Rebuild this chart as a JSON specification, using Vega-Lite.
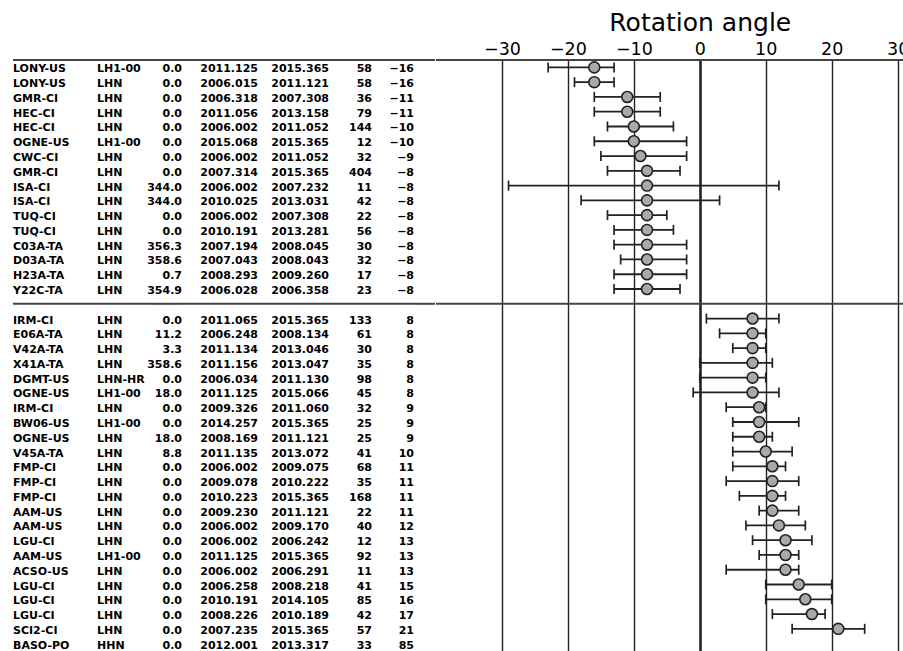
{
  "$schema": "https://vega.github.io/schema/vega-lite/v6.json",
  "padding": {"left": 12, "top": 10, "right": 0, "bottom": 0},
  "spacing": 0,
  "bounds": "flush",
  "config": {
    "font": "DejaVu Sans",
    "view": {"stroke": null},
    "concat": {"spacing": 0}
  },
  "datasets": {
    "rows": [
      {"seq": 1, "st": "LONY-US", "ch": "LH1-00", "az": 0.0, "t0": 2011.125, "t1": 2015.365, "n": 58, "ang": -16, "lo": -23, "hi": -13},
      {"seq": 2, "st": "LONY-US", "ch": "LHN", "az": 0.0, "t0": 2006.015, "t1": 2011.121, "n": 58, "ang": -16, "lo": -19, "hi": -13},
      {"seq": 3, "st": "GMR-CI", "ch": "LHN", "az": 0.0, "t0": 2006.318, "t1": 2007.308, "n": 36, "ang": -11, "lo": -16, "hi": -6},
      {"seq": 4, "st": "HEC-CI", "ch": "LHN", "az": 0.0, "t0": 2011.056, "t1": 2013.158, "n": 79, "ang": -11, "lo": -16, "hi": -6},
      {"seq": 5, "st": "HEC-CI", "ch": "LHN", "az": 0.0, "t0": 2006.002, "t1": 2011.052, "n": 144, "ang": -10, "lo": -14, "hi": -4},
      {"seq": 6, "st": "OGNE-US", "ch": "LH1-00", "az": 0.0, "t0": 2015.068, "t1": 2015.365, "n": 12, "ang": -10, "lo": -16, "hi": -2},
      {"seq": 7, "st": "CWC-CI", "ch": "LHN", "az": 0.0, "t0": 2006.002, "t1": 2011.052, "n": 32, "ang": -9, "lo": -15, "hi": -2},
      {"seq": 8, "st": "GMR-CI", "ch": "LHN", "az": 0.0, "t0": 2007.314, "t1": 2015.365, "n": 404, "ang": -8, "lo": -14, "hi": -3},
      {"seq": 9, "st": "ISA-CI", "ch": "LHN", "az": 344.0, "t0": 2006.002, "t1": 2007.232, "n": 11, "ang": -8, "lo": -29, "hi": 12},
      {"seq": 10, "st": "ISA-CI", "ch": "LHN", "az": 344.0, "t0": 2010.025, "t1": 2013.031, "n": 42, "ang": -8, "lo": -18, "hi": 3},
      {"seq": 11, "st": "TUQ-CI", "ch": "LHN", "az": 0.0, "t0": 2006.002, "t1": 2007.308, "n": 22, "ang": -8, "lo": -14, "hi": -5},
      {"seq": 12, "st": "TUQ-CI", "ch": "LHN", "az": 0.0, "t0": 2010.191, "t1": 2013.281, "n": 56, "ang": -8, "lo": -13, "hi": -4},
      {"seq": 13, "st": "C03A-TA", "ch": "LHN", "az": 356.3, "t0": 2007.194, "t1": 2008.045, "n": 30, "ang": -8, "lo": -13, "hi": -2},
      {"seq": 14, "st": "D03A-TA", "ch": "LHN", "az": 358.6, "t0": 2007.043, "t1": 2008.043, "n": 32, "ang": -8, "lo": -12, "hi": -2},
      {"seq": 15, "st": "H23A-TA", "ch": "LHN", "az": 0.7, "t0": 2008.293, "t1": 2009.260, "n": 17, "ang": -8, "lo": -13, "hi": -2},
      {"seq": 16, "st": "Y22C-TA", "ch": "LHN", "az": 354.9, "t0": 2006.028, "t1": 2006.358, "n": 23, "ang": -8, "lo": -13, "hi": -3},
      {"seq": 17, "st": "IRM-CI", "ch": "LHN", "az": 0.0, "t0": 2011.065, "t1": 2015.365, "n": 133, "ang": 8, "lo": 1, "hi": 12},
      {"seq": 18, "st": "E06A-TA", "ch": "LHN", "az": 11.2, "t0": 2006.248, "t1": 2008.134, "n": 61, "ang": 8, "lo": 3, "hi": 10},
      {"seq": 19, "st": "V42A-TA", "ch": "LHN", "az": 3.3, "t0": 2011.134, "t1": 2013.046, "n": 30, "ang": 8, "lo": 5, "hi": 10},
      {"seq": 20, "st": "X41A-TA", "ch": "LHN", "az": 358.6, "t0": 2011.156, "t1": 2013.047, "n": 35, "ang": 8, "lo": 0, "hi": 11},
      {"seq": 21, "st": "DGMT-US", "ch": "LHN-HR", "az": 0.0, "t0": 2006.034, "t1": 2011.130, "n": 98, "ang": 8, "lo": 0, "hi": 10},
      {"seq": 22, "st": "OGNE-US", "ch": "LH1-00", "az": 18.0, "t0": 2011.125, "t1": 2015.066, "n": 45, "ang": 8, "lo": -1, "hi": 12},
      {"seq": 23, "st": "IRM-CI", "ch": "LHN", "az": 0.0, "t0": 2009.326, "t1": 2011.060, "n": 32, "ang": 9, "lo": 4, "hi": 10},
      {"seq": 24, "st": "BW06-US", "ch": "LH1-00", "az": 0.0, "t0": 2014.257, "t1": 2015.365, "n": 25, "ang": 9, "lo": 5, "hi": 15},
      {"seq": 25, "st": "OGNE-US", "ch": "LHN", "az": 18.0, "t0": 2008.169, "t1": 2011.121, "n": 25, "ang": 9, "lo": 5, "hi": 11},
      {"seq": 26, "st": "V45A-TA", "ch": "LHN", "az": 8.8, "t0": 2011.135, "t1": 2013.072, "n": 41, "ang": 10, "lo": 5, "hi": 14},
      {"seq": 27, "st": "FMP-CI", "ch": "LHN", "az": 0.0, "t0": 2006.002, "t1": 2009.075, "n": 68, "ang": 11, "lo": 5, "hi": 13},
      {"seq": 28, "st": "FMP-CI", "ch": "LHN", "az": 0.0, "t0": 2009.078, "t1": 2010.222, "n": 35, "ang": 11, "lo": 4, "hi": 15},
      {"seq": 29, "st": "FMP-CI", "ch": "LHN", "az": 0.0, "t0": 2010.223, "t1": 2015.365, "n": 168, "ang": 11, "lo": 6, "hi": 13},
      {"seq": 30, "st": "AAM-US", "ch": "LHN", "az": 0.0, "t0": 2009.230, "t1": 2011.121, "n": 22, "ang": 11, "lo": 9, "hi": 15},
      {"seq": 31, "st": "AAM-US", "ch": "LHN", "az": 0.0, "t0": 2006.002, "t1": 2009.170, "n": 40, "ang": 12, "lo": 7, "hi": 16},
      {"seq": 32, "st": "LGU-CI", "ch": "LHN", "az": 0.0, "t0": 2006.002, "t1": 2006.242, "n": 12, "ang": 13, "lo": 8, "hi": 17},
      {"seq": 33, "st": "AAM-US", "ch": "LH1-00", "az": 0.0, "t0": 2011.125, "t1": 2015.365, "n": 92, "ang": 13, "lo": 9, "hi": 15},
      {"seq": 34, "st": "ACSO-US", "ch": "LHN", "az": 0.0, "t0": 2006.002, "t1": 2006.291, "n": 11, "ang": 13, "lo": 4, "hi": 15},
      {"seq": 35, "st": "LGU-CI", "ch": "LHN", "az": 0.0, "t0": 2006.258, "t1": 2008.218, "n": 41, "ang": 15, "lo": 10, "hi": 20},
      {"seq": 36, "st": "LGU-CI", "ch": "LHN", "az": 0.0, "t0": 2010.191, "t1": 2014.105, "n": 85, "ang": 16, "lo": 10, "hi": 20},
      {"seq": 37, "st": "LGU-CI", "ch": "LHN", "az": 0.0, "t0": 2008.226, "t1": 2010.189, "n": 42, "ang": 17, "lo": 11, "hi": 19},
      {"seq": 38, "st": "SCI2-CI", "ch": "LHN", "az": 0.0, "t0": 2007.235, "t1": 2015.365, "n": 57, "ang": 21, "lo": 14, "hi": 25},
      {"seq": 39, "st": "BASO-PO", "ch": "HHN", "az": 0.0, "t0": 2012.001, "t1": 2013.317, "n": 33, "ang": 85, "lo": null, "hi": null}
    ]
  },
  "data": {"name": "rows"},
  "hconcat": [
    {
      "width": 84, "height": 591,
      "encoding": {"y": {"field": "seq", "type": "ordinal", "axis": null, "scale": {"domain": [1,2,3,4,5,6,7,8,9,10,11,12,13,14,15,16,16.5,17,18,19,20,21,22,23,24,25,26,27,28,29,30,31,32,33,34,35,36,37,38,39], "paddingInner": 0, "paddingOuter": 0}}},
      "layer": [
        {"mark": {"type": "text", "align": "left", "baseline": "middle", "dy": 2, "fontSize": 11, "fontWeight": "bold", "color": "#000"},
         "encoding": {"x": {"datum": 0, "type": "quantitative", "scale": {"domain": [0, 1]}, "axis": null}, "text": {"field": "st"}}},
        {"data": {"values": [{}]}, "mark": {"type": "rule", "color": "#444", "strokeWidth": 2}, "encoding": {"y": {"datum": 1, "type": "ordinal", "bandPosition": 0}}},
        {"data": {"values": [{}]}, "mark": {"type": "rule", "color": "#444", "strokeWidth": 2}, "encoding": {"y": {"datum": 16.5, "type": "ordinal"}}}
      ]
    },
    {
      "width": 54, "height": 591,
      "encoding": {"y": {"field": "seq", "type": "ordinal", "axis": null, "scale": {"domain": [1,2,3,4,5,6,7,8,9,10,11,12,13,14,15,16,16.5,17,18,19,20,21,22,23,24,25,26,27,28,29,30,31,32,33,34,35,36,37,38,39], "paddingInner": 0, "paddingOuter": 0}}},
      "layer": [
        {"mark": {"type": "text", "align": "left", "baseline": "middle", "dy": 2, "fontSize": 11, "fontWeight": "bold", "color": "#000"},
         "encoding": {"x": {"datum": 0, "type": "quantitative", "scale": {"domain": [0, 1]}, "axis": null}, "text": {"field": "ch"}}},
        {"data": {"values": [{}]}, "mark": {"type": "rule", "color": "#444", "strokeWidth": 2}, "encoding": {"y": {"datum": 1, "type": "ordinal", "bandPosition": 0}}},
        {"data": {"values": [{}]}, "mark": {"type": "rule", "color": "#444", "strokeWidth": 2}, "encoding": {"y": {"datum": 16.5, "type": "ordinal"}}}
      ]
    },
    {
      "width": 31, "height": 591,
      "encoding": {"y": {"field": "seq", "type": "ordinal", "axis": null, "scale": {"domain": [1,2,3,4,5,6,7,8,9,10,11,12,13,14,15,16,16.5,17,18,19,20,21,22,23,24,25,26,27,28,29,30,31,32,33,34,35,36,37,38,39], "paddingInner": 0, "paddingOuter": 0}}},
      "layer": [
        {"mark": {"type": "text", "align": "right", "baseline": "middle", "dy": 2, "fontSize": 11, "fontWeight": "bold", "color": "#000"},
         "encoding": {"x": {"datum": 1, "type": "quantitative", "scale": {"domain": [0, 1]}, "axis": null}, "text": {"field": "az", "type": "quantitative", "format": ".1f"}}},
        {"data": {"values": [{}]}, "mark": {"type": "rule", "color": "#444", "strokeWidth": 2}, "encoding": {"y": {"datum": 1, "type": "ordinal", "bandPosition": 0}}},
        {"data": {"values": [{}]}, "mark": {"type": "rule", "color": "#444", "strokeWidth": 2}, "encoding": {"y": {"datum": 16.5, "type": "ordinal"}}}
      ]
    },
    {
      "width": 76, "height": 591,
      "encoding": {"y": {"field": "seq", "type": "ordinal", "axis": null, "scale": {"domain": [1,2,3,4,5,6,7,8,9,10,11,12,13,14,15,16,16.5,17,18,19,20,21,22,23,24,25,26,27,28,29,30,31,32,33,34,35,36,37,38,39], "paddingInner": 0, "paddingOuter": 0}}},
      "layer": [
        {"mark": {"type": "text", "align": "right", "baseline": "middle", "dy": 2, "fontSize": 11, "fontWeight": "bold", "color": "#000"},
         "encoding": {"x": {"datum": 1, "type": "quantitative", "scale": {"domain": [0, 1]}, "axis": null}, "text": {"field": "t0", "type": "quantitative", "format": ".3f"}}},
        {"data": {"values": [{}]}, "mark": {"type": "rule", "color": "#444", "strokeWidth": 2}, "encoding": {"y": {"datum": 1, "type": "ordinal", "bandPosition": 0}}},
        {"data": {"values": [{}]}, "mark": {"type": "rule", "color": "#444", "strokeWidth": 2}, "encoding": {"y": {"datum": 16.5, "type": "ordinal"}}}
      ]
    },
    {
      "width": 71, "height": 591,
      "encoding": {"y": {"field": "seq", "type": "ordinal", "axis": null, "scale": {"domain": [1,2,3,4,5,6,7,8,9,10,11,12,13,14,15,16,16.5,17,18,19,20,21,22,23,24,25,26,27,28,29,30,31,32,33,34,35,36,37,38,39], "paddingInner": 0, "paddingOuter": 0}}},
      "layer": [
        {"mark": {"type": "text", "align": "right", "baseline": "middle", "dy": 2, "fontSize": 11, "fontWeight": "bold", "color": "#000"},
         "encoding": {"x": {"datum": 1, "type": "quantitative", "scale": {"domain": [0, 1]}, "axis": null}, "text": {"field": "t1", "type": "quantitative", "format": ".3f"}}},
        {"data": {"values": [{}]}, "mark": {"type": "rule", "color": "#444", "strokeWidth": 2}, "encoding": {"y": {"datum": 1, "type": "ordinal", "bandPosition": 0}}},
        {"data": {"values": [{}]}, "mark": {"type": "rule", "color": "#444", "strokeWidth": 2}, "encoding": {"y": {"datum": 16.5, "type": "ordinal"}}}
      ]
    },
    {
      "width": 43, "height": 591,
      "encoding": {"y": {"field": "seq", "type": "ordinal", "axis": null, "scale": {"domain": [1,2,3,4,5,6,7,8,9,10,11,12,13,14,15,16,16.5,17,18,19,20,21,22,23,24,25,26,27,28,29,30,31,32,33,34,35,36,37,38,39], "paddingInner": 0, "paddingOuter": 0}}},
      "layer": [
        {"mark": {"type": "text", "align": "right", "baseline": "middle", "dy": 2, "fontSize": 11, "fontWeight": "bold", "color": "#000"},
         "encoding": {"x": {"datum": 1, "type": "quantitative", "scale": {"domain": [0, 1]}, "axis": null}, "text": {"field": "n", "type": "quantitative", "format": "d"}}},
        {"data": {"values": [{}]}, "mark": {"type": "rule", "color": "#444", "strokeWidth": 2}, "encoding": {"y": {"datum": 1, "type": "ordinal", "bandPosition": 0}}},
        {"data": {"values": [{}]}, "mark": {"type": "rule", "color": "#444", "strokeWidth": 2}, "encoding": {"y": {"datum": 16.5, "type": "ordinal"}}}
      ]
    },
    {
      "width": 42, "height": 591,
      "encoding": {"y": {"field": "seq", "type": "ordinal", "axis": null, "scale": {"domain": [1,2,3,4,5,6,7,8,9,10,11,12,13,14,15,16,16.5,17,18,19,20,21,22,23,24,25,26,27,28,29,30,31,32,33,34,35,36,37,38,39], "paddingInner": 0, "paddingOuter": 0}}},
      "layer": [
        {"mark": {"type": "text", "align": "right", "baseline": "middle", "dy": 2, "fontSize": 11, "fontWeight": "bold", "color": "#000"},
         "encoding": {"x": {"datum": 1, "type": "quantitative", "scale": {"domain": [0, 1]}, "axis": null}, "text": {"field": "ang", "type": "quantitative", "format": "d"}}},
        {"data": {"values": [{}]}, "mark": {"type": "rule", "color": "#444", "strokeWidth": 2}, "encoding": {"y": {"datum": 1, "type": "ordinal", "bandPosition": 0}}},
        {"data": {"values": [{}]}, "mark": {"type": "rule", "color": "#444", "strokeWidth": 2}, "encoding": {"y": {"datum": 16.5, "type": "ordinal"}}}
      ]
    },
    {
      "width": 21.05, "height": 591,
      "encoding": {"y": {"field": "seq", "type": "ordinal", "axis": null, "scale": {"domain": [1,2,3,4,5,6,7,8,9,10,11,12,13,14,15,16,16.5,17,18,19,20,21,22,23,24,25,26,27,28,29,30,31,32,33,34,35,36,37,38,39], "paddingInner": 0, "paddingOuter": 0}}},
      "layer": [
        {"data": {"values": [{}]}, "mark": {"type": "rule", "color": "#444", "strokeWidth": 2}, "encoding": {"y": {"datum": 1, "type": "ordinal", "bandPosition": 0}}},
        {"data": {"values": [{}]}, "mark": {"type": "rule", "color": "#444", "strokeWidth": 2}, "encoding": {"y": {"datum": 16.5, "type": "ordinal"}}}
      ]
    },
    {
      "width": 527.6, "height": 591,
      "encoding": {"y": {"field": "seq", "type": "ordinal", "axis": null, "scale": {"domain": [1,2,3,4,5,6,7,8,9,10,11,12,13,14,15,16,16.5,17,18,19,20,21,22,23,24,25,26,27,28,29,30,31,32,33,34,35,36,37,38,39], "paddingInner": 0, "paddingOuter": 0}}},
      "layer": [
        {"data": {"values": [{}]}, "mark": {"type": "rule", "color": "#444", "strokeWidth": 2}, "encoding": {"y": {"datum": 1, "type": "ordinal", "bandPosition": 0}}},
        {"data": {"values": [{}]}, "mark": {"type": "rule", "color": "#444", "strokeWidth": 2}, "encoding": {"y": {"datum": 16.5, "type": "ordinal"}}},
        {"transform": [{"filter": "isValid(datum.lo) && isValid(datum.hi)"}],
         "mark": {"type": "rule", "color": "#222", "strokeWidth": 1.8},
         "encoding": {"x": {"field": "lo", "type": "quantitative"}, "x2": {"field": "hi"}}},
        {"transform": [{"filter": "isValid(datum.lo)"}],
         "mark": {"type": "tick", "orient": "vertical", "color": "#222", "size": 10, "thickness": 1.7, "opacity": 1},
         "encoding": {"x": {"field": "lo", "type": "quantitative"}}},
        {"transform": [{"filter": "isValid(datum.hi)"}],
         "mark": {"type": "tick", "orient": "vertical", "color": "#222", "size": 10, "thickness": 1.7, "opacity": 1},
         "encoding": {"x": {"field": "hi", "type": "quantitative"}}},
        {"mark": {"type": "point", "shape": "circle", "filled": true, "fill": "#a9a9a9", "stroke": "#222", "strokeWidth": 1.6, "size": 120, "opacity": 1, "clip": true},
         "encoding": {
           "x": {"field": "ang", "type": "quantitative",
                 "scale": {"domain": [-40, 40], "nice": false, "zero": false},
                 "axis": {"orient": "top", "values": [-30, -20, -10, 0, 10, 20, 30], "domain": false, "ticks": false,
                          "grid": true, "gridColor": "#222", "gridOpacity": 1,
                          "gridWidth": {"condition": {"test": "datum.value === 0", "value": 2.6}, "value": 1.4},
                          "labelFontSize": 17.5, "labelColor": "#000", "labelPadding": 2,
                          "title": "Rotation angle", "titleFontSize": 25, "titleFontWeight": "normal", "titleColor": "#000", "titlePadding": 5}}
         }}
      ]
    }
  ]
}
